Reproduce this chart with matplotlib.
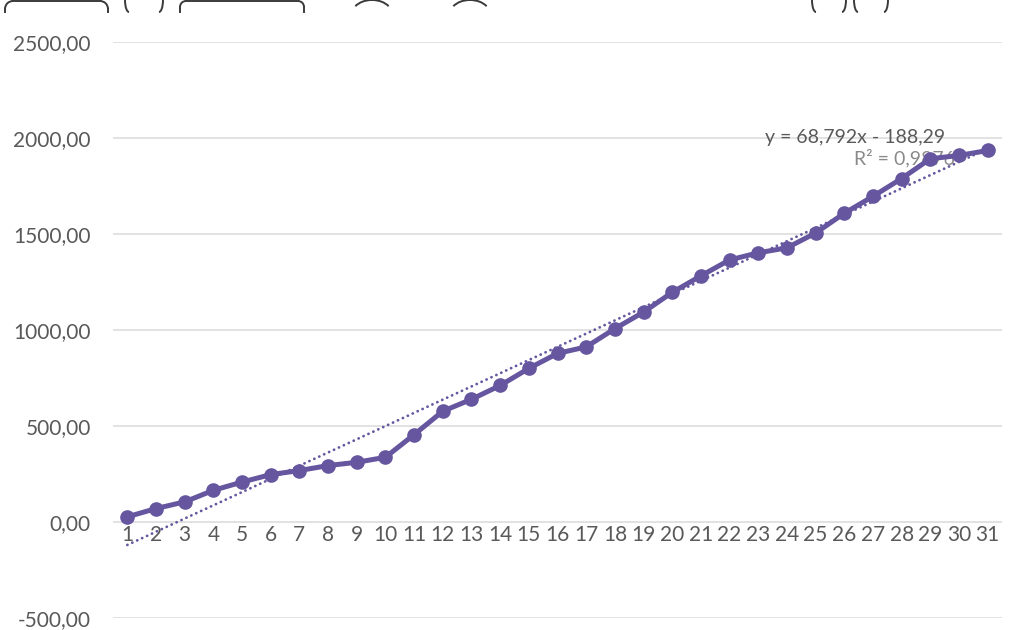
import matplotlib
matplotlib.use("Agg")
import matplotlib.pyplot as plt
from matplotlib.patches import Arc
import numpy as np

plt.rcParams['font.family'] = ['Lato', 'DejaVu Sans']

# daily cumulative values
days = list(range(1, 32))
values = [27, 70, 105, 165, 208, 247, 268, 294, 311, 337,
          455, 577, 639, 711, 800, 878, 912, 1007, 1093, 1196,
          1282, 1365, 1402, 1428, 1505, 1608, 1696, 1789, 1892, 1909, 1935]
y_ticks = [-500, 0, 500, 1000, 1500, 2000, 2500]

# linear trend as reported on the chart
slope = 68.792
intercept = -188.29
r_squared = 0.9876

line_color = '#65569f'
text_color = '#595959'


def comma(v, nd):
    return f"{v:.{nd}f}".replace('.', ',')


fig = plt.figure(figsize=(10.09, 6.3), dpi=100)
ax = fig.add_axes([113 / 1009, 12 / 630, 889 / 1009, 576 / 630])

ax.plot(days, values, color=line_color, lw=3.6, marker='o', ms=9.5,
        markerfacecolor=line_color, markeredgecolor=line_color, zorder=3)

# round-dot trendline
trend_x = np.array([days[0], days[-1]])
ax.plot(trend_x, slope * trend_x + intercept, color=line_color, lw=2,
        linestyle=(0, (0.05, 1.9)), dash_capstyle='round', zorder=4)

ax.set_xlim(0.5, 31.5)
ax.set_ylim(-500, 2500)
ax.set_yticks(y_ticks)
ax.set_yticklabels([comma(v, 2) for v in y_ticks])
ax.set_xticks(days)
ax.set_xticklabels([str(d) for d in days])
ax.grid(axis='y', color='#dadada', lw=1.1, zorder=0)
ax.set_axisbelow(True)
for s in ax.spines.values():
    s.set_visible(False)
ax.spines['bottom'].set_position(('data', 0))
ax.tick_params(axis='both', length=0, colors=text_color, labelsize=15)
ax.tick_params(axis='y', pad=16)
ax.tick_params(axis='x', pad=2)

sign = '-' if intercept < 0 else '+'
ax.text(29.5, 2003, f"y = {comma(slope, 3)}x {sign} {comma(abs(intercept), 2)}",
        color=text_color, fontsize=14, ha='right', va='center', zorder=2)
ax.text(29.85, 1893, f"R² = {comma(r_squared, 4)}",
        color='#8a8a8a', fontsize=14, ha='right', va='center', zorder=2)

# cut-off shapes along the top edge
over = fig.add_axes([0, 0, 1, 1], facecolor='none')
over.set_xlim(0, 1009)
over.set_ylim(630, 0)
over.axis('off')
edge = '#3a3a3a'


def rounded_top(x0, x1, top, r, depth):
    over.plot([x0 + r, x1 - r], [top, top], color=edge, lw=1.4)
    over.add_patch(Arc((x0 + r, top + r), 2 * r, 2 * r, theta1=180, theta2=270,
                       color=edge, lw=1.4))
    over.add_patch(Arc((x1 - r, top + r), 2 * r, 2 * r, theta1=270, theta2=360,
                       color=edge, lw=1.4))
    over.plot([x0, x0], [top + r, depth], color=edge, lw=1.4)
    over.plot([x1, x1], [top + r, depth], color=edge, lw=1.4)


def round_top(x0, x1, top, depth):
    w = x1 - x0
    over.add_patch(Arc(((x0 + x1) / 2, top + depth), w, 2 * depth,
                       theta1=205, theta2=335, color=edge, lw=1.4))


def parens(x0, x1, depth):
    # a pair of brackets whose tops run off the edge
    h = 2 * depth
    over.add_patch(Arc((x0 + 4, 0), 8, h, theta1=90, theta2=180, color=edge, lw=1.4))
    over.add_patch(Arc((x1 - 4, 0), 8, h, theta1=0, theta2=90, color=edge, lw=1.4))


rounded_top(5, 108, 1, 8, 12)
parens(125, 163, 12)
rounded_top(180, 304, 1, 6, 12)
round_top(352, 392, 0, 14)
round_top(450, 490, 0, 14)
parens(812, 846, 12)
parens(854, 888, 12)

fig.savefig('out.png', dpi=100)
